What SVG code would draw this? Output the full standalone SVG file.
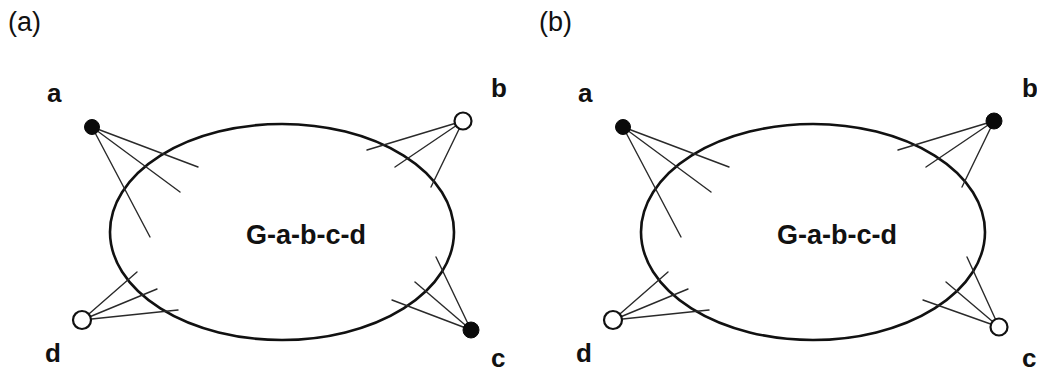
<svg xmlns="http://www.w3.org/2000/svg" width="1037" height="371" viewBox="0 0 1037 371">
<style>
.bg{fill:#fff}
.edge{stroke:#2a2a2a;stroke-width:1.4;fill:none;stroke-linecap:round}
.graph{fill:none;stroke:#111;stroke-width:2.6}
.filled{fill:#0a0a0a;stroke:#0a0a0a;stroke-width:1}
.open{fill:#fff;stroke:#111;stroke-width:2.2}
.lbl{font-family:"Liberation Sans",Arial,sans-serif;font-weight:bold;font-size:26px;fill:#111}
.gl{font-family:"Liberation Sans",Arial,sans-serif;font-weight:bold;font-size:27px;fill:#111}
.pl{font-family:"Liberation Sans",Arial,sans-serif;font-size:27px;fill:#111}
</style>
<rect class="bg" x="0" y="0" width="1037" height="371"/>
<g id="panel-a">
  <text class="pl" x="8" y="31">(a)</text>
  <g id="a-graph">
    <ellipse class="graph" cx="282" cy="232" rx="172" ry="108"/>
    <text class="gl" x="306" y="244" text-anchor="middle">G-a-b-c-d</text>
  </g>
  <g id="a-connectors">
    <line class="edge" x1="92" y1="127" x2="198" y2="167"/>
    <line class="edge" x1="92" y1="127" x2="180" y2="192"/>
    <line class="edge" x1="92" y1="127" x2="150" y2="237"/>
    <line class="edge" x1="463" y1="121" x2="367" y2="150"/>
    <line class="edge" x1="463" y1="121" x2="395" y2="167"/>
    <line class="edge" x1="463" y1="121" x2="431" y2="187"/>
    <line class="edge" x1="82" y1="320" x2="137" y2="272"/>
    <line class="edge" x1="82" y1="320" x2="157" y2="289"/>
    <line class="edge" x1="82" y1="320" x2="178" y2="310"/>
    <line class="edge" x1="471" y1="330" x2="436" y2="257"/>
    <line class="edge" x1="471" y1="330" x2="415" y2="282"/>
    <line class="edge" x1="471" y1="330" x2="392" y2="300"/>
  </g>
  <g id="a-node-a"><circle class="filled" cx="92" cy="127" r="7.5"/><text class="lbl" x="47" y="102">a</text></g>
  <g id="a-node-b"><circle class="open" cx="463" cy="121" r="8.5"/><text class="lbl" x="491" y="97">b</text></g>
  <g id="a-node-c"><circle class="filled" cx="471" cy="330" r="8"/><text class="lbl" x="491" y="367">c</text></g>
  <g id="a-node-d"><circle class="open" cx="82" cy="320" r="9"/><text class="lbl" x="45" y="362">d</text></g>
</g>
<g id="panel-b" transform="translate(531,0)">
  <text class="pl" x="8" y="31">(b)</text>
  <g id="b-graph">
    <ellipse class="graph" cx="282" cy="232" rx="172" ry="108"/>
    <text class="gl" x="306" y="244" text-anchor="middle">G-a-b-c-d</text>
  </g>
  <g id="b-connectors">
    <line class="edge" x1="92" y1="127" x2="198" y2="167"/>
    <line class="edge" x1="92" y1="127" x2="180" y2="192"/>
    <line class="edge" x1="92" y1="127" x2="150" y2="237"/>
    <line class="edge" x1="463" y1="121" x2="367" y2="150"/>
    <line class="edge" x1="463" y1="121" x2="395" y2="167"/>
    <line class="edge" x1="463" y1="121" x2="431" y2="187"/>
    <line class="edge" x1="82" y1="320" x2="137" y2="272"/>
    <line class="edge" x1="82" y1="320" x2="157" y2="289"/>
    <line class="edge" x1="82" y1="320" x2="178" y2="310"/>
    <line class="edge" x1="468" y1="327" x2="436" y2="257"/>
    <line class="edge" x1="468" y1="327" x2="415" y2="282"/>
    <line class="edge" x1="468" y1="327" x2="392" y2="300"/>
  </g>
  <g id="b-node-a"><circle class="filled" cx="92" cy="127" r="7.5"/><text class="lbl" x="47" y="102">a</text></g>
  <g id="b-node-b"><circle class="filled" cx="463" cy="121" r="8"/><text class="lbl" x="491" y="97">b</text></g>
  <g id="b-node-c"><circle class="open" cx="468" cy="327" r="8.5"/><text class="lbl" x="491" y="367">c</text></g>
  <g id="b-node-d"><circle class="open" cx="82" cy="320" r="9"/><text class="lbl" x="45" y="362">d</text></g>
</g>
</svg>
